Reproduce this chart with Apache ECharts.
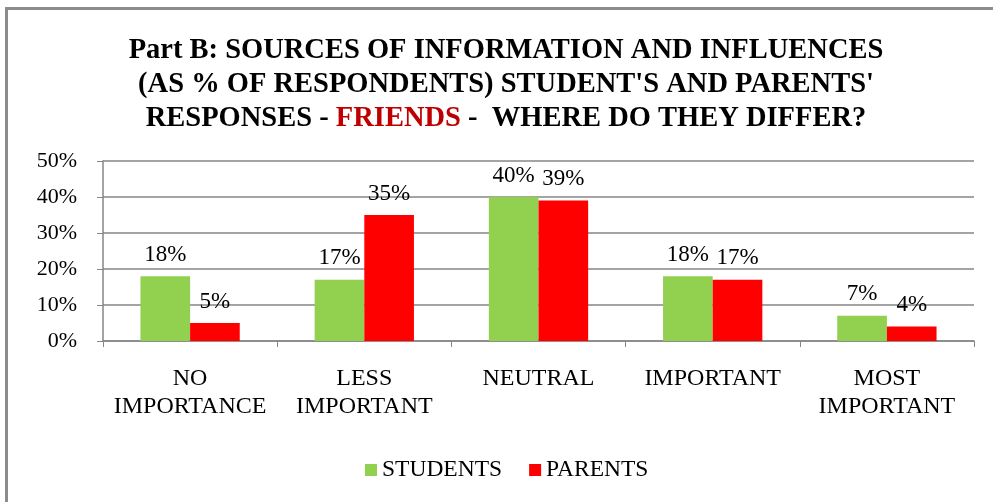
<!DOCTYPE html>
<html>
<head>
<meta charset="utf-8">
<script src="https://cdn.jsdelivr.net/npm/echarts@6/dist/echarts.min.js"></script>
<style>
  html, body { margin: 0; padding: 0; background: #fff; }
  #wrap { position: absolute; left: 0; top: 0; width: 993px; height: 502px; overflow: hidden; }
  #frame { position: absolute; left: 5px; top: 7px; width: 1000px; height: 520px;
           border-left: 3px solid #8c8c8c; border-top: 3px solid #8c8c8c; }
  #chart { position: absolute; left: 0; top: 0; width: 993px; height: 502px; }
</style>
</head>
<body>
<div id="wrap">
  <div id="frame"></div>
  <div id="chart"></div>
</div>
<script>
// Survey answers, as % of respondents
const categories = ['NO\nIMPORTANCE', 'LESS\nIMPORTANT', 'NEUTRAL', 'IMPORTANT', 'MOST\nIMPORTANT'];
const students = [18, 17, 40, 18, 7];
const parents = [5, 35, 39, 17, 4];
const yTicks = [0, 10, 20, 30, 40, 50];

const serif = '"Liberation Serif", "Times New Roman", serif';

const chart = echarts.init(document.getElementById('chart'));
const labelStyle = {
  show: true,
  position: 'top',
  distance: 10,
  formatter: p => p.value + '%',
  fontFamily: serif,
  fontSize: 23,
  color: '#000'
};

chart.setOption({
  backgroundColor: 'transparent',
  animation: false,
  title: {
    left: 506,
    textAlign: 'center',
    top: 34,
    padding: 0,
    text: '{a|Part B: SOURCES OF INFORMATION AND INFLUENCES}\n' +
          '{a|(AS % OF RESPONDENTS) STUDENT\'S AND PARENTS\'}\n' +
          '{a|RESPONSES - }{r|FRIENDS}{a| -  WHERE DO THEY DIFFER?}',
    textStyle: {
      rich: {
        a: { fontFamily: serif, fontWeight: 'bold', fontSize: 28.5, color: '#000', lineHeight: 34 },
        r: { fontFamily: serif, fontWeight: 'bold', fontSize: 28.5, color: '#c00000', lineHeight: 34 }
      }
    }
  },
  legend: {
    top: 453,
    left: 360,
    icon: 'rect',
    itemWidth: 12,
    itemHeight: 12,
    itemGap: 27,
    textStyle: { fontFamily: serif, fontSize: 23.5, color: '#000' },
    data: ['STUDENTS', 'PARENTS']
  },
  grid: { left: 103, right: 19, top: 161, bottom: 161 },
  xAxis: {
    type: 'category',
    data: categories,
    axisLine: { lineStyle: { color: '#868686', width: 1.5 } },
    axisTick: { show: true, length: 6, lineStyle: { color: '#868686' } },
    axisLabel: { fontFamily: serif, fontSize: 24, color: '#000', lineHeight: 28, margin: 24, interval: 0 }
  },
  yAxis: {
    type: 'value',
    min: yTicks[0],
    max: yTicks[yTicks.length - 1],
    interval: 10,
    axisLine: { show: true, lineStyle: { color: '#868686', width: 1.5 } },
    axisTick: { show: true, length: 6, lineStyle: { color: '#868686' } },
    splitLine: { lineStyle: { color: '#868686', width: 1.5 } },
    axisLabel: { fontFamily: serif, fontSize: 22, color: '#000', margin: 26, formatter: '{value}%' }
  },
  series: [
    {
      name: 'STUDENTS', type: 'bar', data: students,
      itemStyle: { color: '#92d050' },
      barGap: '0%', barCategoryGap: '43%',
      label: labelStyle
    },
    {
      name: 'PARENTS', type: 'bar', data: parents,
      itemStyle: { color: '#ff0000' },
      label: labelStyle
    }
  ]
});
</script>
</body>
</html>
